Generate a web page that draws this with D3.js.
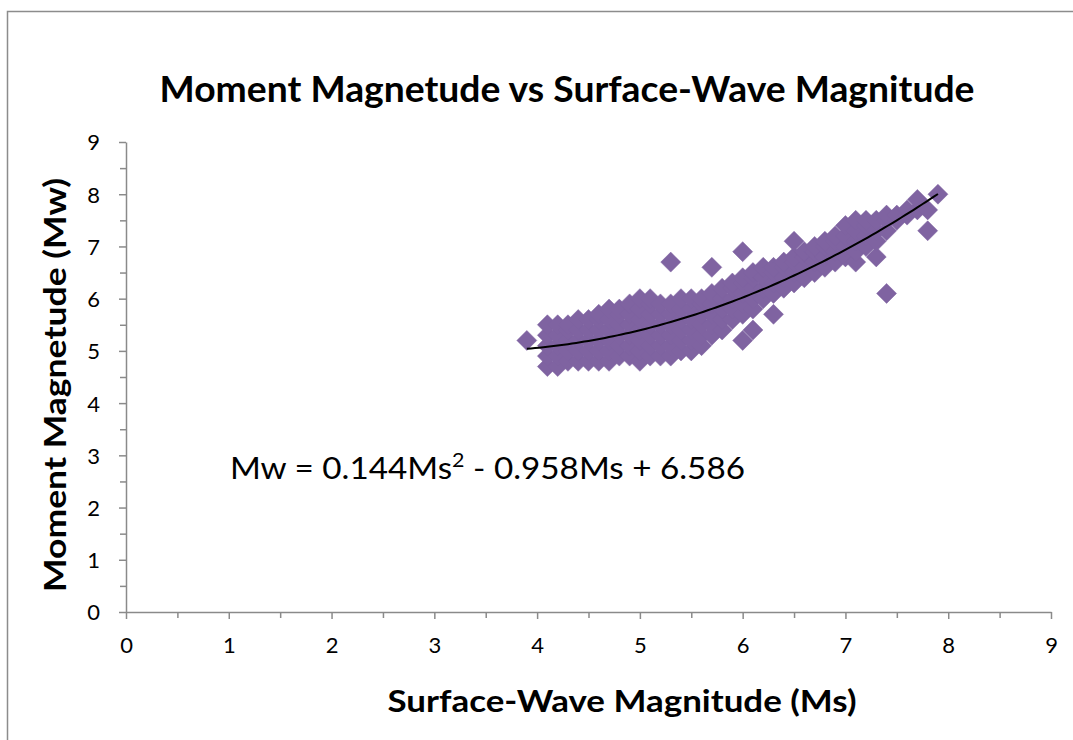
<!DOCTYPE html>
<html>
<head>
<meta charset="utf-8">
<script src="https://cdn.jsdelivr.net/npm/d3@7"></script>
<style>
  html, body { margin: 0; padding: 0; background: #fff; }
  svg { display: block; }
  text { font-family: Lato, "Open Sans", sans-serif; fill: #000; }
</style>
</head>
<body>
<svg id="chart" width="1073" height="740"></svg>
<script>
// Surface-wave magnitude (Ms) columns and the moment magnitudes (Mw) observed at each
const msColumns = [3.9, 4.1, 4.2, 4.3, 4.4, 4.5, 4.6, 4.7, 4.8, 4.9, 5.0, 5.1, 5.2, 5.3, 5.4, 5.5, 5.6,
  5.7, 5.8, 5.9, 6.0, 6.1, 6.2, 6.3, 6.4, 6.5, 6.6, 6.7, 6.8, 6.9, 7.0, 7.1, 7.2, 7.3, 7.4, 7.5, 7.6, 7.7, 7.8, 7.9];
const mwColumns = [
  [5.2],
  [4.7, 4.9, 5.1, 5.3, 5.5],
  [4.7, 4.9, 5.1, 5.3, 5.5],
  [4.8, 5.0, 5.2, 5.4, 5.5],
  [4.8, 5.0, 5.2, 5.4, 5.6],
  [4.8, 5.0, 5.2, 5.4, 5.6],
  [4.8, 5.0, 5.2, 5.4, 5.6, 5.7],
  [4.8, 5.0, 5.2, 5.4, 5.6, 5.8],
  [4.9, 5.1, 5.3, 5.5, 5.7, 5.8],
  [4.9, 5.1, 5.3, 5.5, 5.7, 5.9],
  [4.8, 5.0, 5.2, 5.4, 5.6, 5.8, 6.0],
  [4.9, 5.1, 5.3, 5.5, 5.7, 5.9, 6.0],
  [4.9, 5.1, 5.3, 5.5, 5.7, 5.9],
  [4.9, 5.1, 5.3, 5.5, 5.7, 5.9, 6.7],
  [5.0, 5.2, 5.4, 5.6, 5.8, 6.0],
  [5.0, 5.2, 5.4, 5.6, 5.8, 6.0],
  [5.1, 5.3, 5.5, 5.7, 5.9, 6.0],
  [5.3, 5.5, 5.7, 5.9, 6.1, 6.6],
  [5.4, 5.6, 5.8, 6.0, 6.2],
  [5.6, 5.8, 6.0, 6.2, 6.3],
  [5.2, 5.7, 5.9, 6.1, 6.3, 6.4, 6.9],
  [5.4, 5.8, 6.0, 6.2, 6.4, 6.5],
  [6.0, 6.2, 6.4, 6.6],
  [5.7, 6.1, 6.3, 6.5, 6.6],
  [6.2, 6.4, 6.6, 6.7],
  [6.3, 6.5, 6.7, 6.8, 7.1],
  [6.4, 6.6, 6.8, 6.9],
  [6.5, 6.7, 6.9, 7.0],
  [6.6, 6.8, 7.0, 7.1],
  [6.7, 6.9, 7.1, 7.2],
  [6.8, 7.0, 7.2, 7.4],
  [6.7, 6.9, 7.1, 7.3, 7.5],
  [7.0, 7.2, 7.4, 7.5],
  [6.8, 7.1, 7.3, 7.5],
  [6.1, 7.3, 7.5, 7.6],
  [7.5, 7.6],
  [7.6, 7.7],
  [7.7, 7.9],
  [7.3, 7.7],
  [8.0]
];

// Second-order polynomial fit: Mw = a*Ms^2 + b*Ms + c
const fitCoefficients = [0.144, -0.958, 6.586];
const axisTicks = [0, 1, 2, 3, 4, 5, 6, 7, 8, 9];
const minorTicks = [0.5, 1.5, 2.5, 3.5, 4.5, 5.5, 6.5, 7.5, 8.5];

const titleText = "Moment Magnetude vs Surface-Wave Magnitude";
const xTitleText = "Surface-Wave Magnitude (Ms)";
const yTitleText = "Moment Magnetude (Mw)";

const points = [];
msColumns.forEach((ms, i) => mwColumns[i].forEach(mw => points.push({ ms, mw })));

const svg = d3.select("#chart");
const W = 1073, H = 740;
const axisColor = "#8a8a8a";
const markerColor = "#7f63a1";

// chart area frame
svg.append("rect")
  .attr("x", 7.5).attr("y", 11.5)
  .attr("width", W + 20).attr("height", H + 20)
  .attr("fill", "#fff").attr("stroke", "#8c8c8c").attr("stroke-width", 1.5);

const x = d3.scaleLinear().domain([0, 9]).range([126, 1051]);
const y = d3.scaleLinear().domain([0, 9]).range([612, 142]);

// minor ticks
const gMinor = svg.append("g");
gMinor.append("g").attr("transform", `translate(0,${y(0)})`)
  .call(d3.axisBottom(x).tickValues(minorTicks).tickSize(6).tickFormat(""))
  .call(g => g.select(".domain").remove());
gMinor.append("g").attr("transform", `translate(${x(0)},0)`)
  .call(d3.axisLeft(y).tickValues(minorTicks).tickSize(6).tickFormat(""))
  .call(g => g.select(".domain").remove());

// major axes
const gx = svg.append("g").attr("transform", `translate(0,${y(0)})`)
  .call(d3.axisBottom(x).tickValues(axisTicks).tickSize(7).tickSizeOuter(0).tickPadding(18).tickFormat(d3.format("d")));
const gy = svg.append("g").attr("transform", `translate(${x(0)},0)`)
  .call(d3.axisLeft(y).tickValues(axisTicks).tickSize(7).tickSizeOuter(0).tickPadding(19).tickFormat(d3.format("d")));

svg.selectAll(".tick line, .domain").attr("stroke", axisColor).attr("stroke-width", 1.5);
[gx, gy].forEach(g => g.selectAll("text")
  .attr("font-family", "Lato, 'Open Sans', sans-serif")
  .attr("font-size", 22).attr("fill", "#000"));
gy.selectAll("text").attr("dy", "0.36em");

// scatter markers (diamonds)
const half = 10;
const diamond = `M0,${-half}L${half},0L0,${half}L${-half},0Z`;
svg.append("g").selectAll("path")
  .data(points)
  .join("path")
  .attr("d", diamond)
  .attr("transform", d => `translate(${x(d.ms)},${y(d.mw)})`)
  .attr("fill", markerColor)
  .attr("stroke", markerColor)
  .attr("stroke-width", 0.5);

// polynomial trendline over the observed Ms range
const [a, b, c] = fitCoefficients;
const msMin = d3.min(msColumns), msMax = d3.max(msColumns);
const trend = d3.range(0, 101).map(i => {
  const ms = msMin + (msMax - msMin) * i / 100;
  return [ms, a * ms * ms + b * ms + c];
});
svg.append("path")
  .attr("d", d3.line().x(d => x(d[0])).y(d => y(d[1]))(trend))
  .attr("fill", "none").attr("stroke", "#000").attr("stroke-width", 2);

// fitted equation
const eq = svg.append("text")
  .attr("x", 230).attr("y", 479)
  .attr("font-size", 31)
  .attr("textLength", 515).attr("lengthAdjust", "spacingAndGlyphs");
eq.append("tspan").text(`Mw = ${a.toFixed(3)}Ms`);
eq.append("tspan").attr("dy", -12).attr("font-size", 20).text("2");
eq.append("tspan").attr("dy", 12).text(` - ${Math.abs(b).toFixed(3)}Ms + ${c.toFixed(3)}`);

// titles
svg.append("text")
  .attr("x", 567).attr("y", 102)
  .attr("text-anchor", "middle")
  .attr("font-size", 36).attr("font-weight", 700)
  .attr("textLength", 815).attr("lengthAdjust", "spacingAndGlyphs")
  .text(titleText);

svg.append("text")
  .attr("x", 622).attr("y", 712)
  .attr("text-anchor", "middle")
  .attr("font-size", 30).attr("font-weight", 700)
  .attr("textLength", 469).attr("lengthAdjust", "spacingAndGlyphs")
  .text(xTitleText);

svg.append("text")
  .attr("transform", "translate(66,385) rotate(-90)")
  .attr("text-anchor", "middle")
  .attr("font-size", 30).attr("font-weight", 700)
  .attr("textLength", 414).attr("lengthAdjust", "spacingAndGlyphs")
  .text(yTitleText);
</script>
</body>
</html>
